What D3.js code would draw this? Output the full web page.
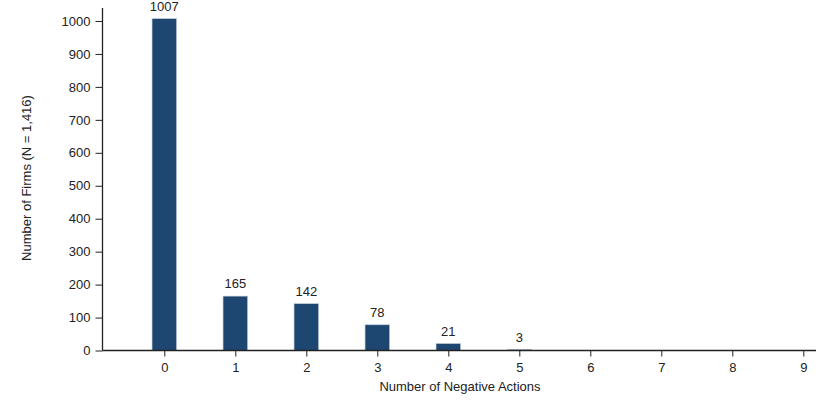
<!DOCTYPE html>
<html><head><meta charset="utf-8">
<script src="https://cdn.jsdelivr.net/npm/d3@7"></script>
<style>body{margin:0;background:#fff}svg{display:block}text{font-family:"Liberation Sans",Arial,sans-serif;fill:#222}</style>
</head><body>
<svg id="c" width="821" height="400"></svg>
<script>
const categories = [0,1,2,3,4,5,6,7,8,9];
const counts = [1007,165,142,78,21,3,0,0,0,0];
const yTicks = [0,100,200,300,400,500,600,700,800,900,1000];
const xTitle = "Number of Negative Actions";
const yTitle = "Number of Firms (N = 1,416)";

const svg = d3.select("#c");
const x = d3.scaleLinear().domain([0,9]).range([164.3,803.3]);
const y = d3.scaleLinear().domain([0,1000]).range([350.5,21]);
const axisLeft = 102.5, axisRight = 816, barW = 24.5;
const col = "#1d4770";
const fs = 13;
const ff = "Liberation Sans, Arial, sans-serif";

const data = categories.map((c,i)=>({c,v:counts[i]})).filter(d=>d.v>0);

// bars
svg.selectAll("rect.bar").data(data)
  .enter().append("rect").attr("class","bar")
  .attr("x",d=>x(d.c)-barW/2).attr("width",barW)
  .attr("y",d=>y(d.v)).attr("height",d=>Math.max(1,y(0)-y(d.v)))
  .attr("fill",col).attr("stroke","#b9c8d6").attr("stroke-width",0.6);

// value labels
svg.selectAll("text.val").data(data)
  .enter().append("text").attr("class","val")
  .attr("x",d=>x(d.c)).attr("y",d=>y(d.v)-8)
  .attr("text-anchor","middle").attr("font-size",fs).text(d=>d.v);

// y axis
const ya = svg.append("g").attr("transform",`translate(${axisLeft},0)`)
  .call(d3.axisLeft(y).tickValues(yTicks).tickSize(7).tickPadding(5).tickFormat(d3.format("d")));
ya.select(".domain").remove();
ya.selectAll("line").attr("stroke","#222");
ya.selectAll("text").attr("font-size",fs).attr("fill","#222").style("font-family",ff);
svg.append("line").attr("x1",axisLeft).attr("x2",axisLeft).attr("y1",8).attr("y2",350.5).attr("stroke","#222").attr("stroke-width",1.3);

// x axis
const xa = svg.append("g").attr("transform",`translate(0,${y(0)})`)
  .call(d3.axisBottom(x).tickValues(categories).tickSize(6).tickPadding(6).tickFormat(d3.format("d")));
xa.select(".domain").remove();
xa.selectAll("line").attr("stroke","#222");
xa.selectAll("text").attr("font-size",fs).attr("fill","#222").style("font-family",ff);
svg.append("line").attr("x1",axisLeft).attr("x2",axisRight).attr("y1",y(0)).attr("y2",y(0)).attr("stroke","#222").attr("stroke-width",1.3);

// titles
svg.append("text").attr("x",460).attr("y",391).attr("text-anchor","middle").attr("font-size",fs).text(xTitle);
svg.append("text").attr("transform","translate(31,178) rotate(-90)").attr("text-anchor","middle").attr("font-size",fs).text(yTitle);
</script>
</body></html>
